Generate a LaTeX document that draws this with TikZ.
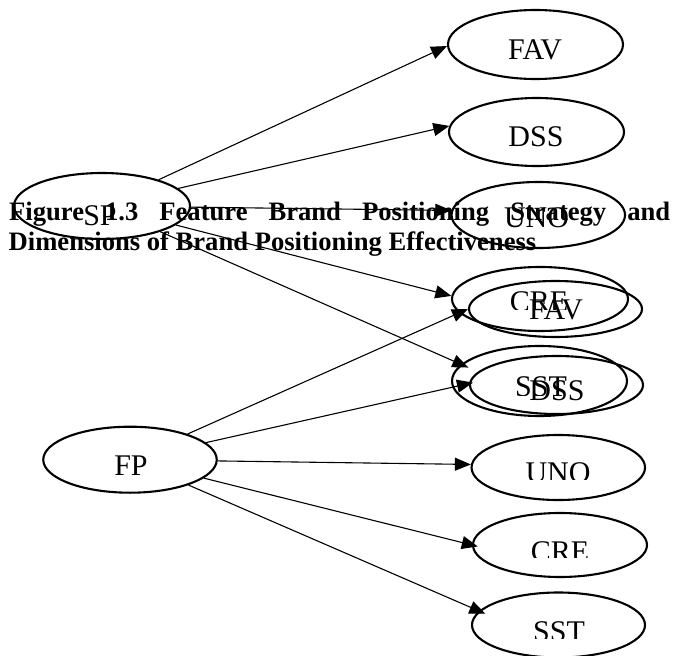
\documentclass[tikz,border=0pt]{standalone}
\usepackage{fontspec}
\setmainfont{Liberation Serif}
\usetikzlibrary{arrows.meta,shapes.geometric}
\begin{document}
\begin{tikzpicture}[x=1pt,y=-1pt,
  oval/.style={draw, ellipse, line width=2.1pt, inner sep=0pt},
  lab/.style={anchor=base, inner sep=0pt, font=\fontsize{30}{34}\selectfont},
  arr/.style={line width=1.1pt, -{Triangle[length=16pt,width=13pt]}},
  captext/.style={anchor=base west, inner sep=0pt, font=\fontsize{26.6}{30}\selectfont\bfseries}]
\useasboundingbox (0,0) rectangle (673,656);

% ellipses, SP group
\node[oval, minimum width=176pt, minimum height=66pt] (SP) at (102,206) {};
\node[oval, minimum width=175pt, minimum height=69pt] (FAV1) at (535.5,44.5) {};
\node[oval, minimum width=175pt, minimum height=68pt] (DSS1) at (536.5,132) {};
\node[oval, minimum width=173.5pt, minimum height=66pt] (UNO1) at (538.3,215) {};
\node[oval, minimum width=176pt, minimum height=64pt] (CRE1) at (540,299) {};
\node[oval, minimum width=175pt, minimum height=70pt] (SST1) at (539.5,381) {};

% ellipses, FP group
\node[oval, minimum width=173.5pt, minimum height=66pt] (FP) at (130,459.7) {};
\node[oval, minimum width=173pt, minimum height=56pt] (FAV2) at (555.5,309) {};
\node[oval, minimum width=173pt, minimum height=58pt] (DSS2) at (556.5,385) {};
\node[oval, minimum width=173.5pt, minimum height=65pt] (UNO2) at (558.3,467.5) {};
\node[oval, minimum width=174pt, minimum height=64pt] (CRE2) at (560,545) {};
\node[oval, minimum width=173pt, minimum height=65pt] (SST2) at (558.5,625) {};

% labels
\node[lab] (tSP) at (100,225) {SP};
\node[lab] (tFAV1) at (535,59) {FAV};
\node[lab] (tDSS1) at (536,146.7) {DSS};
\node[lab] (tUNO1) at (536.5,227) {UNO};
\node[lab] (tFAV2) at (556,319) {FAV};
\begin{scope}
  \clip (480,270) rectangle (600,309);
  \node[lab] (tCRE1) at (539,311) {CRE};
\end{scope}
\begin{scope}
  \clip (480,360) rectangle (600,395);
  \node[lab] (tSST1) at (541,396) {SST};
\end{scope}
\begin{scope}
  \clip (500,360) rectangle (620,401.5);
  \node[lab] (tDSS2) at (557,400) {DSS};
\end{scope}
\begin{scope}
  \clip (80,440) rectangle (180,474);
  \node[lab] (tFP) at (131,475) {FP};
\end{scope}
\begin{scope}
  \clip (500,440) rectangle (620,479);
  \node[lab] (tUNO2) at (558,482) {UNO};
\end{scope}
\begin{scope}
  \clip (500,520) rectangle (620,557.3);
  \node[lab] (tCRE2) at (560,561) {CRE};
\end{scope}
\begin{scope}
  \clip (500,600) rectangle (620,638.3);
  \node[lab] (tSST2) at (559,641) {SST};
\end{scope}

% connectors
\draw[arr] (SP) -- (FAV1.181);
\draw[arr] (SP) -- (DSS1.176);
\draw[arr] (SP) -- (UNO1.177);
\draw[arr] (SP) -- (CRE1.178);
\draw[arr, shorten >=-8pt] (SP) -- (SST1.168);
\draw[arr] (FP) -- (FAV2.west);
\draw[arr, shorten >=-4pt] (FP) -- (DSS2.179);
\draw[arr] (FP) -- (UNO2.178);
\draw[arr, shorten >=-6pt] (FP) -- (CRE2.west);
\draw[arr, shorten >=-7pt] (FP) -- (SST2.170);

% caption
\node[captext] (cap1) at (9,220) {\makebox[661pt][l]{Figure\hfill 1.3\hfill Feature\hfill Brand\hfill Positioning\hfill Strategy\hfill and}};
\node[captext] (cap2) at (8.5,250) {Dimensions of Brand Positioning Effectiveness};
\end{tikzpicture}
\end{document}
